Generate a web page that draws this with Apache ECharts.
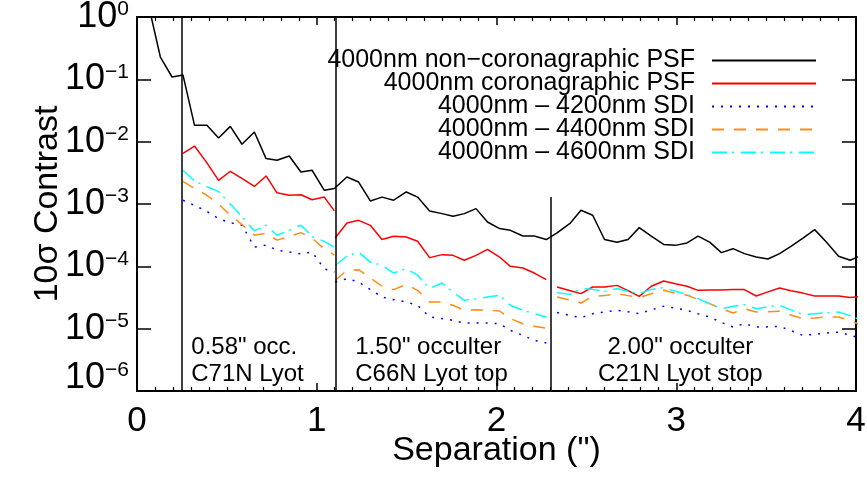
<!DOCTYPE html>
<html>
<head>
<meta charset="utf-8">
<script src="https://cdn.jsdelivr.net/npm/echarts@6/dist/echarts.min.js"></script>
<style>
  html, body { margin: 0; padding: 0; background: #fff; }
  #chart { width: 867px; height: 478px; }
</style>
</head>
<body>
<div id="chart"></div>
<script>
// Separation samples (arcsec) for each occulter configuration
const sepPre = [0.061, 0.130, 0.195];
const sepR1 = [0.256, 0.320, 0.389, 0.454, 0.519, 0.584, 0.653, 0.718, 0.779, 0.847, 0.912, 0.974, 1.042, 1.098];
const sepR2 = [1.103, 1.168, 1.233, 1.298, 1.363, 1.428, 1.498, 1.561, 1.628, 1.697, 1.758, 1.821, 1.886, 1.950, 2.017, 2.077, 2.147, 2.210, 2.277];
const sepR3 = [2.337, 2.411, 2.470, 2.535, 2.601, 2.670, 2.732, 2.794, 2.861, 2.930, 2.995, 3.060, 3.121, 3.186, 3.251, 3.316, 3.379, 3.445, 3.510, 3.575, 3.638, 3.705, 3.770, 3.835, 3.903, 3.968, 4.033];

// 4000nm non-coronagraphic PSF (continuous)
const psfPre = [1.7, 0.228, 0.109];
const psfR1 = [0.117, 0.0183, 0.0183, 0.01146, 0.0176, 0.00908, 0.01429, 0.00535, 0.00502, 0.00589, 0.00326, 0.00348, 0.00166, 0.00177];
const psfR2 = [0.00177, 0.00271, 0.00225, 0.00112, 0.00129, 0.00115, 0.00156, 0.00129, 7.73e-4, 7.01e-4, 6.34e-4, 7.01e-4, 8.43e-4, 5.14e-4, 4.03e-4, 3.78e-4, 3.06e-4, 3.06e-4, 2.69e-4];
const psfR3 = [3.43e-4, 4.95e-4, 7.93e-4, 6.59e-4, 2.69e-4, 2.43e-4, 2.69e-4, 4.18e-4, 3.06e-4, 2.25e-4, 2.17e-4, 2.37e-4, 3.06e-4, 2.45e-4, 1.66e-4, 1.92e-4, 1.60e-4, 1.41e-4, 1.31e-4, 1.60e-4, 2.09e-4, 2.84e-4, 3.88e-4, 2.45e-4, 1.45e-4, 1.25e-4, 1.52e-4];

// 4000nm coronagraphic PSF
const coroR1 = [6.46e-3, 8.51e-3, 4.57e-3, 2.40e-3, 3.35e-3, 2.57e-3, 1.91e-3, 2.82e-3, 1.51e-3, 1.38e-3, 1.41e-3, 1.17e-3, 1.29e-3, 7.76e-4];
const coroR2 = [2.88e-4, 4.95e-4, 5.47e-4, 4.55e-4, 2.69e-4, 3.03e-4, 2.95e-4, 2.52e-4, 1.38e-4, 1.54e-4, 1.50e-4, 1.25e-4, 1.50e-4, 1.87e-4, 1.41e-4, 1.00e-4, 9.4e-5, 7.8e-5, 6.1e-5];
const coroR3 = [4.66e-5, 4.07e-5, 3.65e-5, 4.66e-5, 4.66e-5, 4.95e-5, 4.07e-5, 3.30e-5, 4.79e-5, 5.82e-5, 5.25e-5, 4.79e-5, 4.12e-5, 4.17e-5, 4.19e-5, 4.23e-5, 4.23e-5, 3.34e-5, 3.89e-5, 4.49e-5, 4.07e-5, 3.72e-5, 3.34e-5, 3.34e-5, 3.34e-5, 3.16e-5, 3.31e-5];

// 4000nm - 4200nm SDI
const sdi42R1 = [1.15e-3, 9.5e-4, 7.6e-4, 5.82e-4, 5.0e-4, 4.57e-4, 2.04e-4, 2.19e-4, 1.82e-4, 1.70e-4, 1.58e-4, 1.70e-4, 9.1e-5, 8.1e-5];
const sdi42R2 = [5.6e-5, 6.35e-5, 5.6e-5, 4.23e-5, 3.22e-5, 2.92e-5, 2.68e-5, 2.37e-5, 1.54e-5, 1.45e-5, 1.36e-5, 1.23e-5, 1.23e-5, 1.23e-5, 1.20e-5, 9.4e-6, 7.8e-6, 6.5e-6, 5.9e-6];
const sdi42R3 = [1.81e-5, 1.62e-5, 1.50e-5, 1.74e-5, 1.86e-5, 1.97e-5, 1.86e-5, 1.74e-5, 2.0e-5, 2.29e-5, 2.14e-5, 1.97e-5, 1.74e-5, 1.54e-5, 1.26e-5, 1.06e-5, 1.20e-5, 1.06e-5, 1.07e-5, 1.09e-5, 9.3e-6, 7.8e-6, 8.1e-6, 8.5e-6, 8.8e-6, 7.9e-6, 6.8e-6];

// 4000nm - 4400nm SDI
const sdi44R1 = [2.31e-3, 1.78e-3, 1.38e-3, 1.0e-3, 6.6e-4, 4.68e-4, 3.16e-4, 3.39e-4, 2.63e-4, 3.02e-4, 3.47e-4, 2.82e-4, 1.91e-4, 1.51e-4];
const sdi44R2 = [5.97e-5, 8.63e-5, 8.85e-5, 6.5e-5, 4.79e-5, 4.23e-5, 5.14e-5, 4.12e-5, 2.68e-5, 2.68e-5, 2.37e-5, 1.97e-5, 2.02e-5, 1.97e-5, 1.92e-5, 1.45e-5, 1.20e-5, 1.09e-5, 1.02e-5];
const sdi44R3 = [3.22e-5, 2.88e-5, 2.58e-5, 3.30e-5, 3.39e-5, 3.65e-5, 3.39e-5, 3.15e-5, 3.63e-5, 4.12e-5, 3.72e-5, 3.43e-5, 2.95e-5, 2.52e-5, 2.09e-5, 1.78e-5, 2.09e-5, 1.85e-5, 1.86e-5, 1.90e-5, 1.66e-5, 1.45e-5, 1.48e-5, 1.54e-5, 1.54e-5, 1.35e-5, 1.12e-5];

// 4000nm - 4600nm SDI
const sdi46R1 = [3.47e-3, 2.34e-3, 1.91e-3, 1.58e-3, 1.0e-3, 6.3e-4, 3.7e-4, 4.57e-4, 3.16e-4, 3.8e-4, 4.57e-4, 3.02e-4, 2.51e-4, 2.04e-4];
const sdi46R2 = [1.04e-4, 1.45e-4, 1.70e-4, 1.17e-4, 1.04e-4, 7.8e-5, 9.2e-5, 7.2e-5, 4.4e-5, 5.4e-5, 3.87e-5, 2.85e-5, 3.03e-5, 3.22e-5, 3.43e-5, 2.37e-5, 1.97e-5, 1.74e-5, 1.54e-5];
const sdi46R3 = [3.78e-5, 3.55e-5, 4.40e-5, 4.27e-5, 3.98e-5, 4.40e-5, 3.98e-5, 3.65e-5, 4.27e-5, 4.55e-5, 3.98e-5, 3.55e-5, 3.03e-5, 2.51e-5, 2.09e-5, 2.29e-5, 2.43e-5, 2.09e-5, 2.24e-5, 2.37e-5, 2.0e-5, 1.68e-5, 1.74e-5, 1.80e-5, 1.85e-5, 1.62e-5, 1.35e-5];

// Occulter boundaries (arcsec) and the contrast reached by each divider line
const occulterEdges = [0.247, 1.103, 2.30];
const dividerTops = [1, 1, 1.29e-3];

// Occulter / Lyot stop annotations
const annoSep = [0.302, 1.214, 3.023];
const annoLevel = 3.05e-6;
const annoText = [
  '0.58" occ.\nC71N Lyot',
  '1.50" occulter\nC66N Lyot top',
  '2.00" occulter\nC21N Lyot stop'
];

const seriesNames = [
  '4000nm non\u2212coronagraphic PSF',
  '4000nm coronagraphic PSF',
  '4000nm \u2013 4200nm SDI',
  '4000nm \u2013 4400nm SDI',
  '4000nm \u2013 4600nm SDI'
];

const FONT = '"Liberation Sans", Helvetica, Arial, sans-serif';

function pairs(xs, ys) { return xs.map((x, i) => [x, ys[i]]); }
// Segments separated by a gap so each occulter region is drawn on its own
function segmented(r1, r2, r3) {
  return pairs(sepR1, r1)
    .concat([[ (sepR1[sepR1.length - 1] + sepR2[0]) / 2, '-' ]])
    .concat(pairs(sepR2, r2))
    .concat([[ (sepR2[sepR2.length - 1] + sepR3[0]) / 2, '-' ]])
    .concat(pairs(sepR3, r3));
}

const psfData = pairs(sepPre, psfPre)
  .concat(pairs(sepR1, psfR1))
  .concat(pairs(sepR2.slice(1), psfR2.slice(1)))
  .concat(pairs(sepR3, psfR3));

function supLabel(v) {
  const e = Math.round(Math.log10(v));
  const s = e < 0 ? '\u2212' + (-e) : String(e);
  return e === -6 ? '{bl|10}{sl|' + s + '}' : '{b|10}{s|' + s + '}';
}

const chart = echarts.init(document.getElementById('chart'), null, { renderer: 'canvas' });

const baseLine = (color, type) => ({
  type: 'line',
  symbol: 'none',
  connectNulls: false,
  clip: true,
  animation: false,
  lineStyle: { color: color, width: 1.5, type: type },
  itemStyle: { color: color }
});

const xAxisCommon = {
  type: 'value', min: 0, max: 4, interval: 1,
  axisLine: { show: true, onZero: false, lineStyle: { color: '#000', width: 2 } },
  axisTick: { show: true, inside: true, length: 8, lineStyle: { color: '#000', width: 1.5 } },
  minorTick: { show: true, splitNumber: 10, length: 4, lineStyle: { color: '#000', width: 1.2 } },
  splitLine: { show: false }, minorSplitLine: { show: false }
};
const yAxisCommon = {
  type: 'log', logBase: 10, min: 1e-6, max: 1,
  axisLine: { show: true, onZero: false, lineStyle: { color: '#000', width: 2 } },
  axisTick: { show: true, inside: true, length: 14, lineStyle: { color: '#000', width: 1.5 } },
  minorTick: { show: false },
  splitLine: { show: false }
};

chart.setOption({
  animation: false,
  backgroundColor: '#fff',
  grid: { left: 137, right: 11, top: 17, bottom: 87, outerBoundsMode: 'none' },
  xAxis: [
    Object.assign({}, xAxisCommon, {
      position: 'bottom',
      name: 'Separation (")', nameLocation: 'middle', nameGap: 43, nameMoveOverlap: false,
      nameTextStyle: { fontSize: 34, color: '#000', fontFamily: FONT, verticalAlign: 'top' },
      axisLabel: { fontSize: 35, color: '#000', fontFamily: FONT, margin: 13, verticalAlign: 'top' }
    }),
    Object.assign({}, xAxisCommon, { position: 'top', axisLabel: { show: false } })
  ],
  yAxis: [
    Object.assign({}, yAxisCommon, {
      position: 'left',
      name: '10\u03c3 Contrast', nameLocation: 'middle', nameGap: 72, nameMoveOverlap: false,
      nameTextStyle: { fontSize: 34, color: '#000', fontFamily: FONT },
      axisLabel: {
        margin: 8, formatter: supLabel,
        rich: {
          b: { fontSize: 36, color: '#000', fontFamily: FONT },
          s: { fontSize: 21, color: '#000', fontFamily: FONT, verticalAlign: 'top' },
          bl: { fontSize: 36, color: '#000', fontFamily: FONT, padding: [0, 0, 26, 0] },
          sl: { fontSize: 21, color: '#000', fontFamily: FONT, verticalAlign: 'top', padding: [0, 0, 26, 0] }
        }
      }
    }),
    Object.assign({}, yAxisCommon, { position: 'right', axisLabel: { show: false } })
  ],
  legend: {
    data: seriesNames,
    orient: 'vertical', align: 'right',
    right: 50, top: 48, padding: 0,
    itemWidth: 104, itemHeight: 14, itemGap: -2,
    selectedMode: false,
    itemStyle: { opacity: 0 },
    textStyle: { fontSize: 25, color: '#000', fontFamily: FONT, padding: [0, 12, 0, 0] }
  },
  series: [
    Object.assign(baseLine('#000000', 'solid'), {
      name: seriesNames[0], data: psfData, z: 5,
      markLine: {
        silent: true, symbol: 'none', animation: false,
        label: { show: false },
        lineStyle: { color: '#000', width: 1.5, type: 'solid' },
        data: occulterEdges.map((x, i) => [{ coord: [x, 1e-6] }, { coord: [x, dividerTops[i]] }])
      }
    }),
    Object.assign(baseLine('#ff0000', 'solid'), { name: seriesNames[1], data: segmented(coroR1, coroR2, coroR3) }),
    Object.assign(baseLine('#0000ff', [2, 7]), { name: seriesNames[2], data: segmented(sdi42R1, sdi42R2, sdi42R3) }),
    Object.assign(baseLine('#ff8c1a', [12, 10]), { name: seriesNames[3], data: segmented(sdi44R1, sdi44R2, sdi44R3) }),
    Object.assign(baseLine('#00ffff', [15, 5, 2, 7]), { name: seriesNames[4], data: segmented(sdi46R1, sdi46R2, sdi46R3) }),
    {
      type: 'scatter', name: 'annotations', symbolSize: 0, silent: true, animation: false,
      itemStyle: { opacity: 1 },
      data: annoSep.map((x, i) => ({
        value: [x, annoLevel],
        label: {
          show: true, formatter: annoText[i], position: [0, 0],
          align: i === 2 ? 'center' : 'left', verticalAlign: 'middle',
          fontSize: 24, lineHeight: 27, color: '#000', fontFamily: FONT
        }
      }))
    }
  ]
});
</script>
</body>
</html>
